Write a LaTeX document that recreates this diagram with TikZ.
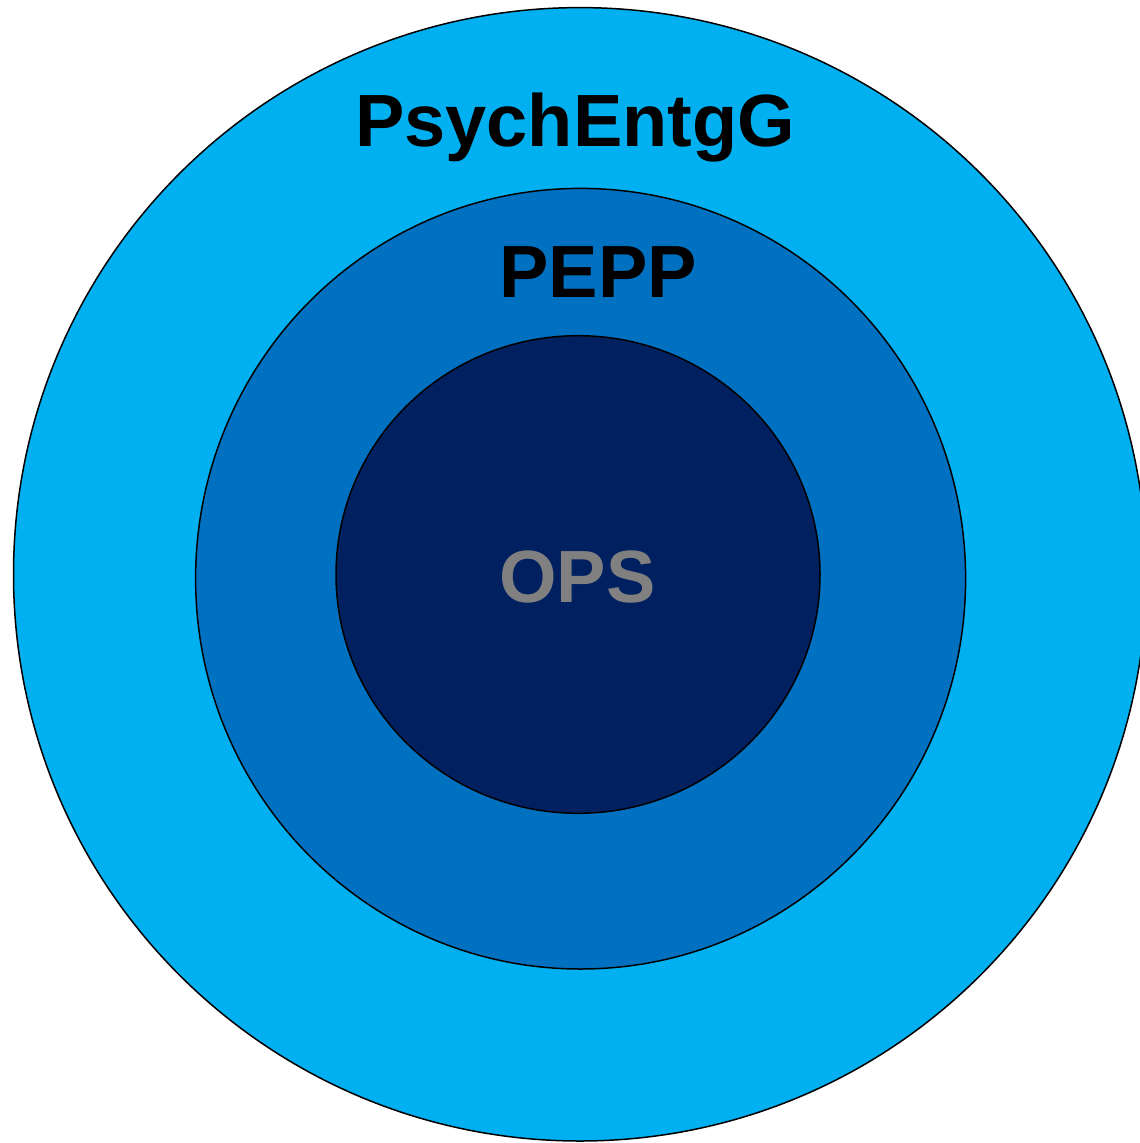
\documentclass[tikz,border=0pt]{standalone}
\usepackage{fontspec}
\setmainfont{Liberation Sans}
\definecolor{outerblue}{HTML}{00B0F0}
\definecolor{midblue}{HTML}{0070C0}
\definecolor{innerblue}{HTML}{002060}
\definecolor{opsgray}{HTML}{808080}
\tikzset{
  ring/.style={draw=black, line width=1.5pt},
  lbl/.style={anchor=base, inner sep=0pt, font=\fontsize{74}{74}\selectfont\bfseries}
}
\begin{document}
\begin{tikzpicture}[x=1pt,y=-1pt]
\useasboundingbox (0,0) rectangle (1140,1143);
\begin{scope}
\clip (0,0) rectangle (1140,1143);
\path[ring, fill=outerblue] (580,574.3) ellipse [x radius=566.5, y radius=566.7];
\path[ring, fill=midblue] (580.6,578.7) ellipse [x radius=385, y radius=390.3];
\path[ring, fill=innerblue] (578,574.5) ellipse [x radius=242, y radius=238.8];
\end{scope}
\node[lbl, text=black] (psych) at (575,146) {PsychEntgG};
\node[lbl, text=black] (pepp) at (598,297) {PEPP};
\node[lbl, text=opsgray] (ops) at (577.5,602) {OPS};
\end{tikzpicture}
\end{document}
